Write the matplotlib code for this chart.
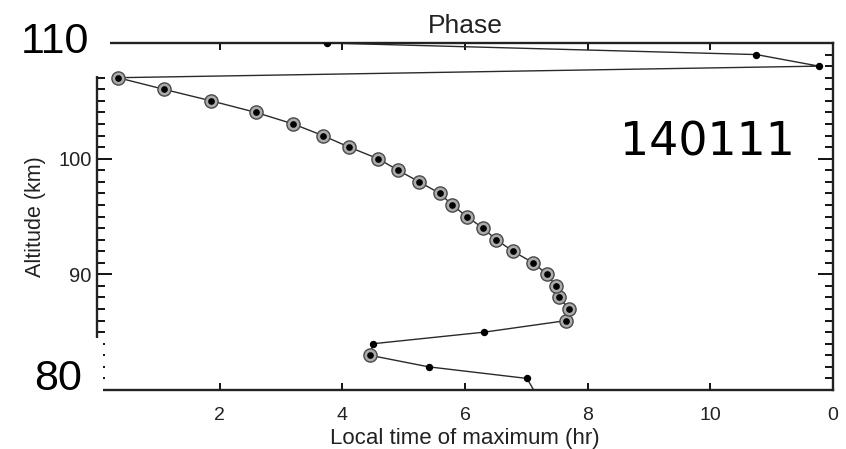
import matplotlib.pyplot as plt
from matplotlib.patches import Rectangle

# altitude (km) and local time of maximum (hr)
altitude = [80, 81, 82, 83, 84, 85, 86, 87, 88, 89, 90, 91, 92, 93, 94, 95,
            96, 97, 98, 99, 100, 101, 102, 103, 104, 105, 106, 107, 108, 109, 110]
phase = [7.12, 7.01, 5.41, 4.45, 4.50, 6.31, 7.65, 7.70, 7.53, 7.48, 7.34,
         7.11, 6.78, 6.51, 6.29, 6.03, 5.79, 5.59, 5.25, 4.91, 4.58, 4.11,
         3.68, 3.20, 2.59, 1.86, 1.09, 0.34, 11.77, 10.75, 3.75]
# altitudes drawn with a ringed marker, and with a plain dot
ringed = [83, 86, 87, 88, 89, 90, 91, 92, 93, 94, 95, 96, 97, 98, 99, 100,
          101, 102, 103, 104, 105, 106, 107]
dotted = [81, 82, 84, 85, 108, 109, 110]

xticks = [0, 2, 4, 6, 8, 10, 12]
xticklabels = ["0", "2", "4", "6", "8", "10", "0"]
yticks = [90, 100]
yticklabels = ["90", "100"]

plt.rcParams["font.family"] = ["Liberation Sans", "DejaVu Sans"]
ink = "#222222"

fig = plt.figure(figsize=(8.46, 4.49), dpi=100)
ax = fig.add_axes([0.11466, 0.13140, 0.86998, 0.77283])

ax.plot(phase, altitude, color="#2a2a2a", lw=1.0, zorder=2)

lookup = dict(zip(altitude, phase))
ax.plot([lookup[a] for a in ringed], ringed, ls="none", marker="o",
        markersize=9.5, markerfacecolor="#ababab", markeredgecolor="#4a4a4a",
        markeredgewidth=1.0, zorder=3)
ax.plot([lookup[a] for a in ringed], ringed, ls="none", marker="o",
        markersize=3.8, color="black", zorder=4)
ax.plot([lookup[a] for a in dotted], dotted, ls="none", marker="o",
        markersize=4.3, color="black", zorder=4)

ax.set_xlim(0, 12)
ax.set_ylim(80, 110)
ax.set_xticks(xticks)
ax.set_xticklabels(xticklabels)
ax.set_yticks(yticks)
ax.set_yticklabels(yticklabels)
ax.set_yticks(range(80, 111), minor=True)

ax.tick_params(axis="x", which="major", direction="in", top=True, length=5,
               width=1.3, pad=12, labelsize=14, labelcolor=ink)
ax.tick_params(axis="y", which="major", direction="in", right=True, length=11,
               width=1.3, pad=4, labelsize=14.5, labelcolor=ink)
ax.tick_params(axis="y", which="minor", direction="in", right=True, length=5.5,
               width=1.3)
ax.tick_params(axis="x", which="minor", bottom=False, top=False)
for s in ax.spines.values():
    s.set_linewidth(1.7)
    s.set_color("#222222")

ax.set_title("Phase", fontsize=19, color=ink, pad=7)
ax.set_xlabel("Local time of maximum (hr)", fontsize=16, color=ink, labelpad=3)
ax.set_ylabel("Altitude (km)", fontsize=15.5, color=ink, labelpad=9)

# pasted-over patches with larger labels
fig.add_artist(Rectangle((0, 1 - 76 / 449), 110 / 846, 76 / 449,
                         transform=fig.transFigure, facecolor="white",
                         edgecolor="none", zorder=5))
fig.add_artist(Rectangle((0, 1 - 425 / 449), 103 / 846, 87 / 449,
                         transform=fig.transFigure, facecolor="white",
                         edgecolor="none", zorder=5))
fig.text(55 / 846, 1 - 42 / 449, "110", fontsize=31, ha="center",
         va="center", color="black", zorder=6)
fig.text(58 / 846, 1 - 379 / 449, "80", fontsize=31, ha="center",
         va="center", color="black", zorder=6)
fig.text(707 / 846, 1 - 143 / 449, "140111",
         family=["DejaVu Sans"], fontsize=33, ha="center", va="center",
         color="black", zorder=6)

fig.savefig("out.png", dpi=100)
